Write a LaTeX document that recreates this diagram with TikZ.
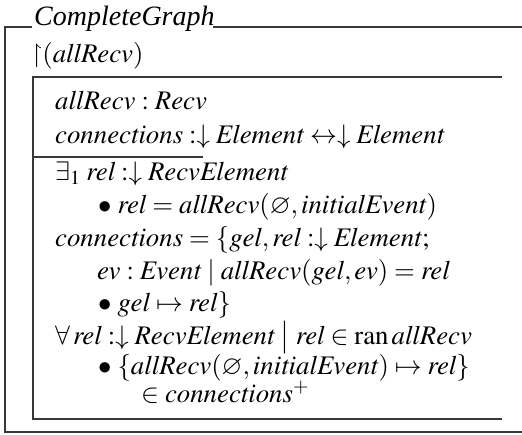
\documentclass[tikz,border=0pt]{standalone}
\usepackage{mathptmx}
\usepackage{amssymb}
\usepackage{fontspec}
\setmainfont{Liberation Serif}

% Z / Object-Z helpers
\newcommand\zsize{\fontsize{26.8}{32}\selectfont}
\newcommand\zi[1]{\mathit{#1}}

\tikzset{
  schemaline/.style={line width=1.3pt, draw=black!78},
  zline/.style={anchor=base west, inner sep=0pt, font=\zsize},
}

\begin{document}
\begin{tikzpicture}[x=1pt, y=-1pt]
\useasboundingbox (0,0) rectangle (522,434);

% class frame
\node[zline, font=\fontsize{28}{33}\selectfont] (title) at (34,25) {\textit{CompleteGraph}};
\draw[schemaline] (32,27) -- (5,27) -- (5,432) -- (522,432);
\draw[schemaline] (213,27) -- (522,27);

% visibility list
\node[zline] (vis) at (31,62) {$\mathord{\upharpoonright}(\zi{allRecv})$};

% state schema frame
\draw[schemaline] (502,77) -- (33,77) -- (33,419) -- (502,419);
\draw[schemaline] (33,157) -- (203,157);

% declarations
\node[zline] (d1) at (55,109) {$\zi{allRecv} : \zi{Recv}$};
\node[zline] (d2) at (55,143) {$\zi{connections} : \downarrow \zi{Element} \leftrightarrow \downarrow \zi{Element}$};

% predicates
\node[zline] (p1) at (55,180) {$\exists_1\; \zi{rel} : \downarrow \zi{RecvElement}$};
\node[zline] (p2) at (98,213) {$\bullet\; \zi{rel} = \zi{allRecv}(\varnothing, \zi{initialEvent})$};
\node[zline] (p3) at (55,246) {$\zi{connections} = \{\zi{gel}, \zi{rel} : \downarrow \zi{Element};$};
\node[zline] (p4) at (97,279) {$\zi{ev} : \zi{Event} \mid \zi{allRecv}(\zi{gel}, \zi{ev}) = \zi{rel}$};
\node[zline] (p5) at (98,311) {$\bullet\; \zi{gel} \mapsto \zi{rel}\}$};
\node[zline] (p6) at (55,344) {$\forall\, \zi{rel} : \downarrow \zi{RecvElement} \bigm| \zi{rel} \in \mathrm{ran}\, \zi{allRecv}$};
\node[zline] (p7) at (98,374) {$\bullet\; \{\zi{allRecv}(\varnothing, \zi{initialEvent}) \mapsto \zi{rel}\}$};
\node[zline] (p8) at (141,402) {$\mathrel{\in} \zi{connections}^{+}$};
\end{tikzpicture}
\end{document}
